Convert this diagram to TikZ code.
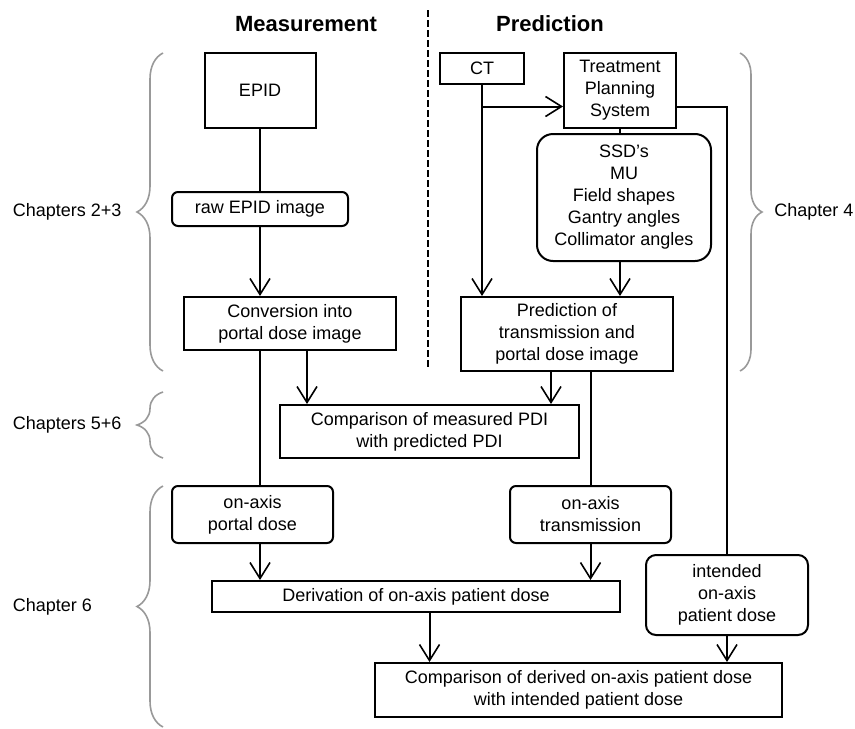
\documentclass[tikz,border=0pt]{standalone}
\usepackage{fontspec}
\setmainfont{Liberation Sans}
\usetikzlibrary{arrows.meta,decorations.pathreplacing}
\tikzset{
  box/.style={draw,line width=1pt,align=center,inner sep=1pt,font=\fontsize{9}{11}\selectfont},
  rbox/.style={box,rounded corners=3pt},
  conn/.style={line width=1pt},
  arr/.style={conn,-{Straight Barb[length=8pt,width=10pt,line width=0.8pt]}},
  chbrace/.style={draw=gray!80,line width=0.8pt,decorate,decoration={brace,amplitude=#1}},
  chbrace/.default=13pt,
  chlabel/.style={anchor=west,inner sep=0pt,font=\fontsize{9}{11}\selectfont},
  coltitle/.style={font=\fontsize{11}{13}\selectfont\bfseries}
}
\begin{document}
\begin{tikzpicture}[x=0.5pt,y=-0.5pt]
\useasboundingbox (0,0) rectangle (855,728);
\node[coltitle] (meastitle) at (306,24) {Measurement};
\node[coltitle] (predtitle) at (550,24) {Prediction};
\draw[line width=1pt,dash pattern=on 3.5pt off 1.5pt] (428,10) -- (428,368);

\node[box,minimum width=55.5pt,minimum height=37.5pt] (epid) at (260,90.5) {EPID};
\node[rbox,minimum width=88pt,minimum height=17pt] (raw) at (260,209) {raw EPID image};
\node[box,minimum width=106pt,minimum height=26.5pt] (conv) at (290,323.5) {Conversion into\\portal dose image};
\node[box,minimum width=42pt,minimum height=15.5pt] (ct) at (482,68.5) {CT};
\node[box,minimum width=56pt,minimum height=37.5pt] (tps) at (620,90.5) {Treatment\\Planning\\System};
\node[rbox,rounded corners=8pt,minimum width=87pt,minimum height=63.5pt] (plan) at (624,197.5) {SSD's\\MU\\Field shapes\\Gantry angles\\Collimator angles};
\node[box,minimum width=106pt,minimum height=37pt] (pred) at (567,334) {Prediction of\\transmission and\\portal dose image};
\node[box,minimum width=149.5pt,minimum height=26.5pt] (pdicmp) at (429.5,431.5) {Comparison of measured PDI\\with predicted PDI};
\node[rbox,minimum width=80.5pt,minimum height=28.5pt] (portal) at (252.5,514.5) {on-axis\\portal dose};
\node[rbox,minimum width=80.5pt,minimum height=28.5pt] (trans) at (590.5,514.5) {on-axis\\transmission};
\node[box,minimum width=204pt,minimum height=15.5pt] (deriv) at (416,596.5) {Derivation of on-axis patient dose};
\node[rbox,rounded corners=5pt,minimum width=81pt,minimum height=40pt] (intended) at (727,595) {intended\\on-axis\\patient dose};
\node[box,minimum width=203.5pt,minimum height=27pt] (dosecmp) at (578.5,690) {Comparison of derived on-axis patient dose\\with intended patient dose};

\coordinate (tpsin) at ([yshift=-8pt]tps.west);
\coordinate (tpsout) at ([yshift=-8pt]tps.east);

\draw[conn] (epid) -- (raw);
\draw[arr] (raw) -- (raw |- conv.north);
\draw[conn] (raw |- conv.south) -- (raw |- portal.north);
\draw[arr] (raw |- portal.south) -- (raw |- deriv.north);
\draw[arr] ([xshift=8.5pt]conv.south) -- ([xshift=8.5pt]conv.south |- pdicmp.north);
\draw[arr] (ct) -- (ct |- pred.north);
\draw[arr] (ct |- tpsin) -- (tpsin);
\draw[conn] (tpsout) -| (intended);
\draw[conn] (tps) -- (tps |- plan.north);
\draw[arr] (tps |- plan.south) -- (tps |- pred.north);
\draw[arr] ([xshift=-8pt]pred.south) -- ([xshift=-8pt]pred.south |- pdicmp.north);
\draw[conn] (trans |- pred.south) -- (trans);
\draw[arr] (trans) -- (trans |- deriv.north);
\draw[arr] (pdicmp |- deriv.south) -- (pdicmp |- dosecmp.north);
\draw[arr] (intended) -- (intended |- dosecmp.north);

\draw[chbrace] (163,371) -- (163,53);
\draw[chbrace] (163,458) -- (163,392);
\draw[chbrace] (163,727) -- (163,486);
\draw[chbrace=11pt] (740,53) -- (740,371);
\node[chlabel] (ch23) at (12.5,212) {Chapters 2+3};
\node[chlabel] (ch56) at (12.5,425) {Chapters 5+6};
\node[chlabel] (ch6) at (12.5,607) {Chapter 6};
\node[chlabel] (ch4) at (774,212) {Chapter 4};
\end{tikzpicture}
\end{document}
